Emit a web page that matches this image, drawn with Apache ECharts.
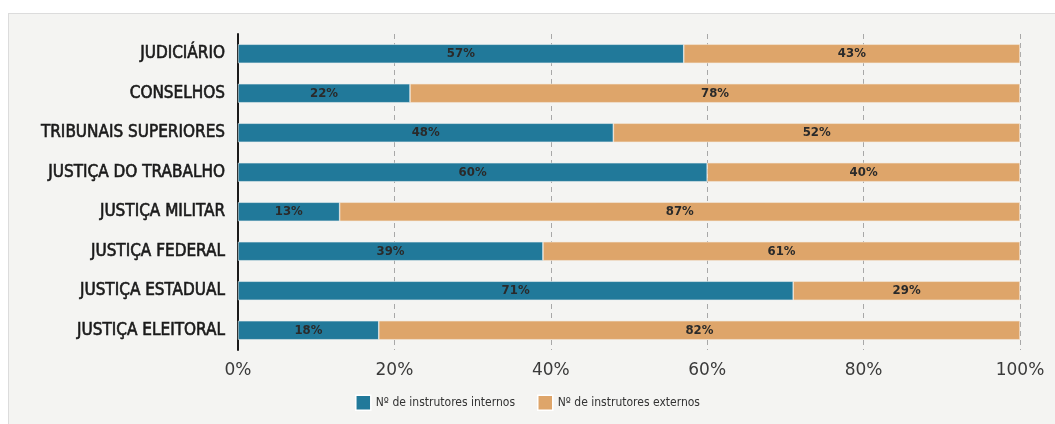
<!DOCTYPE html>
<html><head><meta charset="utf-8">
<script src="https://cdn.jsdelivr.net/npm/echarts@6/dist/echarts.min.js"></script>
<style>html,body{margin:0;padding:0;background:#fff}
#wrap{position:absolute;left:8px;top:13px;width:1047px;height:411px;background:#f4f4f2;border-top:1px solid #dcdcdc;border-left:1px solid #dcdcdc;box-sizing:border-box}
#c{position:absolute;left:0;top:0;width:1055px;height:424px}</style>
</head><body><div id="wrap"></div><div id="c"></div>
<script>
const categories = ['JUDICIÁRIO','CONSELHOS','TRIBUNAIS SUPERIORES','JUSTIÇA DO TRABALHO','JUSTIÇA MILITAR','JUSTIÇA FEDERAL','JUSTIÇA ESTADUAL','JUSTIÇA ELEITORAL'];
const internos = [57,22,48,60,13,39,71,18];
const externos = [43,78,52,40,87,61,29,82];
const seriesNames = ['Nº de instrutores internos','Nº de instrutores externos'];
const chart = echarts.init(document.getElementById('c'));
const cond = '"DejaVu Sans Condensed",sans-serif';
const lbl = {show:true,position:'inside',formatter:p=>p.value+'%',color:'#2a2a2a',fontWeight:'bold',fontSize:13,fontFamily:cond};
chart.setOption({
  animation:false,
  grid:{left:238,right:35,top:34,bottom:74,containLabel:false},
  xAxis:{type:'value',min:0,max:100,interval:20,
    axisLabel:{formatter:'{value}%',color:'#3a3a3a',fontSize:17,fontFamily:'DejaVu Sans',margin:12},
    splitLine:{show:true,lineStyle:{type:[5,4],color:'#a8a8a8',width:1}},
    axisLine:{show:false},axisTick:{show:false}},
  yAxis:{type:'category',data:categories,inverse:true,
    axisLine:{show:true,lineStyle:{color:'#1a1a1a',width:2}},axisTick:{show:false},
    axisLabel:{color:'#1a1a1a',fontSize:17,fontFamily:cond,margin:13,textBorderColor:'#1a1a1a',textBorderWidth:0.6}},
  legend:{bottom:8,left:'center',itemWidth:15,itemHeight:15,itemGap:22,icon:'rect',
    itemStyle:{borderColor:'#ffffff',borderWidth:1.5},
    textStyle:{fontSize:12,color:'#333',fontFamily:'DejaVu Sans Condensed'},data:seriesNames},
  series:[
    {name:seriesNames[0],type:'bar',stack:'t',data:internos,barWidth:19,itemStyle:{color:'#21799a',borderColor:'#e8eef0',borderWidth:0.6},label:lbl},
    {name:seriesNames[1],type:'bar',stack:'t',data:externos,barWidth:19,itemStyle:{color:'#dea56a',borderColor:'#f3e9dd',borderWidth:0.6},label:lbl}
  ]
});
</script></body></html>
